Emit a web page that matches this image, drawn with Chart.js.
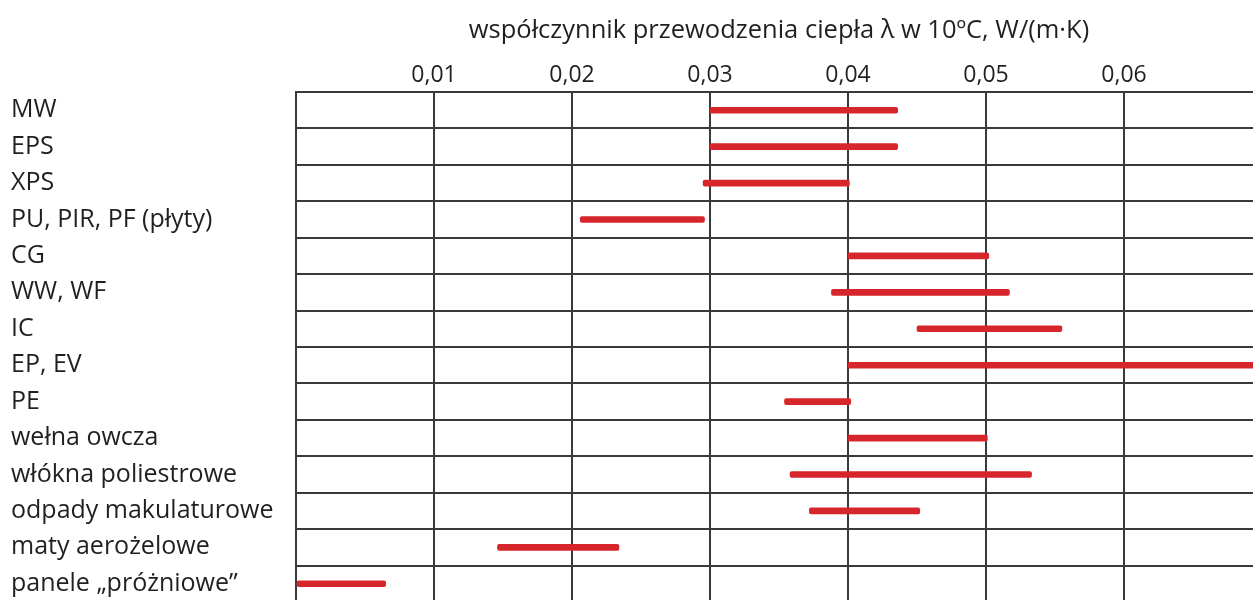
<!DOCTYPE html>
<html>
<head>
<meta charset="utf-8">
<script src="https://cdn.jsdelivr.net/npm/chart.js@4/dist/chart.umd.min.js"></script>
<style>
  html, body { margin: 0; padding: 0; background: #ffffff; overflow: hidden; }
  #wrap { width: 1264px; height: 602px; position: relative; }
</style>
</head>
<body>
<div id="wrap"><canvas id="c"></canvas></div>
<script>
// Materials (categories)
const categories = [
  'MW', 'EPS', 'XPS', 'PU, PIR, PF (płyty)', 'CG', 'WW, WF', 'IC', 'EP, EV', 'PE',
  'wełna owcza', 'włókna poliestrowe', 'odpady makulaturowe', 'maty aerożelowe', 'panele „próżniowe”'
];
// Lower bound of thermal conductivity λ, W/(m·K)
const lambdaMin = [0.030, 0.030, 0.0295, 0.0206, 0.040, 0.0388, 0.0450, 0.040, 0.0354, 0.040, 0.0358, 0.0372, 0.0146, 0.000];
// Upper bound of thermal conductivity λ, W/(m·K)
const lambdaMax = [0.0436, 0.0436, 0.0401, 0.0296, 0.0502, 0.0517, 0.0555, 0.070, 0.0402, 0.0501, 0.0533, 0.0452, 0.0234, 0.0065];
// Axis tick values
const tickValues = [0.01, 0.02, 0.03, 0.04, 0.05, 0.06];
const axisTitle = 'współczynnik przewodzenia ciepła λ w 10ºC, W/(m·K)';

const ranges = categories.map((c, i) => [lambdaMin[i], lambdaMax[i]]);
const ink = '#231f20';
const gridCol = '#3a3a3a';
const FONT = "'Open Sans', 'Noto Sans', sans-serif";

new Chart(document.getElementById('c'), {
  type: 'bar',
  data: {
    labels: categories,
    datasets: [{
      data: ranges,
      backgroundColor: '#d7262b',
      borderWidth: 0,
      borderSkipped: false,
      borderRadius: 2,
      barThickness: 6
    }]
  },
  options: {
    indexAxis: 'y',
    responsive: true,
    maintainAspectRatio: false,
    animation: false,
    layout: { padding: { left: 11, right: 2, top: 0, bottom: 0 } },
    plugins: { legend: { display: false }, tooltip: { enabled: false } },
    scales: {
      x: {
        type: 'linear',
        position: 'top',
        min: 0,
        max: 0.07,
        afterBuildTicks: (axis) => {
          axis.ticks = [0].concat(tickValues, [0.07]).map(v => ({ value: v }));
        },
        afterFit: (scale) => { scale.height = 92; scale.paddingLeft = 0; scale.paddingRight = 0; },
        grid: { color: gridCol, lineWidth: 2, drawTicks: false },
        border: { color: gridCol, width: 2 },
        ticks: {
          color: ink,
          padding: 3,
          font: { family: FONT, size: 23 },
          maxRotation: 0,
          autoSkip: false,
          callback: (v) => tickValues.some(t => Math.abs(t - v) < 1e-9) ? v.toFixed(2).replace('.', ',') : ''
        },
        title: {
          display: true,
          text: axisTitle,
          color: ink,
          font: { family: FONT, size: 25.5 },
          padding: { top: 15, bottom: 0 }
        }
      },
      y: {
        type: 'category',
        afterFit: (scale) => { scale.width = 296 - 11; scale.paddingTop = 0; scale.paddingBottom = 0; },
        grid: { color: gridCol, lineWidth: 2, drawTicks: false, offset: true },
        border: { color: gridCol, width: 2 },
        ticks: {
          color: ink,
          crossAlign: 'far',
          autoSkip: false,
          padding: 0,
          font: { family: FONT, size: 25 }
        }
      }
    }
  }
});
</script>
</body>
</html>
